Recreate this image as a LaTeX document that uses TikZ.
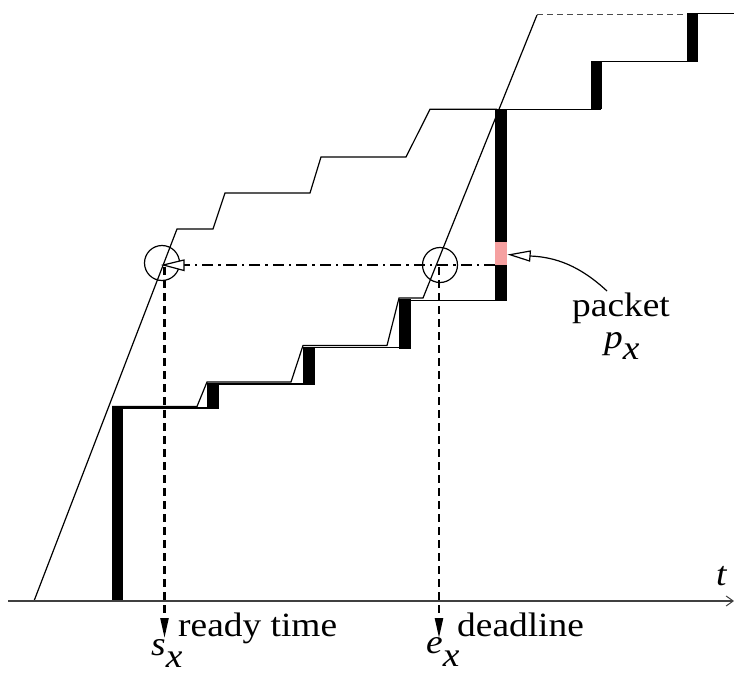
\documentclass[tikz,border=0pt]{standalone}
\usepackage{fontspec}
\setmainfont{Liberation Serif}
\usetikzlibrary{arrows.meta}
\definecolor{pinkbar}{RGB}{245,160,160}
\tikzset{
  thinline/.style={line width=1.2pt, line join=miter},
  barfill/.style={fill=black, draw=none},
  dropline/.style={line width=2.3pt, dash pattern=on 8pt off 5pt,
    -{Triangle[length=20pt,width=8pt]}},
  ddline/.style={line width=2.3pt, dash pattern=on 11pt off 5pt on 2.5pt off 5pt},
  openhead/.style={line width=1.2pt, fill=white, line join=miter},
  ringnode/.style={circle, draw, line width=1.2pt, minimum size=35pt, inner sep=0pt},
  lbl/.style={font=\fontsize{34}{38}\selectfont, inner sep=0pt, anchor=base west},
}
\newcommand{\wide}[1]{\scalebox{1.1}[1]{#1}}
\begin{document}
\begin{tikzpicture}[x=1pt,y=-1pt]
\useasboundingbox (0,0) rectangle (734,674);

% upper curve
\draw[thinline] (34,601) -- (177,229) -- (213,229) -- (225,193) -- (310,193)
  -- (321,157) -- (406,157) -- (430,109.3) -- (497,109.3);

% lower thin curve
\draw[thinline] (112,406.5) -- (197,406.5) -- (207,382) -- (291,382)
  -- (303,345.5) -- (387,345.5) -- (399,298) -- (423,298) -- (537,15);
\draw[line width=1pt, black!70, dash pattern=on 6pt off 4pt] (537,15) -- (688,15);

% staircase horizontals
\draw[thinline] (112,408) -- (218,408);
\draw[thinline] (207,384) -- (315,384);
\draw[thinline] (303,347.5) -- (411,347.5);
\draw[thinline] (399,300.5) -- (507,300.5);
\draw[thinline] (495,109.3) -- (601,109.3);
\draw[thinline] (591,61.5) -- (698,61.5);
\draw[thinline] (687,13.7) -- (734,13.7);

% bars
\fill[barfill] (112,408) rectangle (122.5,601);
\fill[barfill] (207,383) rectangle (218.5,409);
\fill[barfill] (303,346.7) rectangle (315,385);
\fill[barfill] (399,299) rectangle (411,349.3);
\fill[barfill] (495,109.3) rectangle (507,301);
\fill[pinkbar] (495,241.5) rectangle (507,265);
\fill[barfill] (591,61) rectangle (602,109.3);
\fill[barfill] (687,13.3) rectangle (698.3,61.5);

% axis
\coordinate (ax0) at (8,601);
\coordinate (ax1) at (734,601);
\draw[line width=1.3pt, black!75, -{Straight Barb[length=7pt,width=10pt,line width=1pt]}] (ax0) -- (ax1);
\node[lbl] (t) at (716,585) {\wide{\textit{t}}};

% circles
\node[ringnode] (c1) at (162,263) {};
\node[ringnode] (c2) at (440,265) {};

% dash-dot arrow
\coordinate (ddstart) at (495,265);
\coordinate (ddbase) at (184,265);
\coordinate (ddtip) at (163.3,265);
\draw[ddline] (ddstart) -- (ddbase);
\draw[openhead] (184,260) -- (ddtip) -- (184,270.5) -- cycle;

% drop lines
\coordinate (d1a) at (164.5,267);
\coordinate (d1b) at (164.5,638);
\coordinate (d2a) at (439,267);
\coordinate (d2b) at (439,638);
\draw[dropline] (d1a) -- (d1b);
\draw[dropline] (d2a) -- (d2b);

% labels
\node[lbl] (rt) at (178,636) {\wide{ready time}};
\node[lbl] (dl) at (457,636) {\wide{deadline}};
\node[lbl] (sx) at (151,655) {\wide{\textit{s}\raisebox{-12pt}{\textit{x}}}};
\node[lbl] (ex) at (426,653) {\wide{\textit{e}\raisebox{-13pt}{\textit{x}}}};
\node[lbl] (pk) at (572,316) {\wide{packet}};
\node[lbl] (px) at (604,348) {\wide{\textit{p}\raisebox{-11pt}{\textit{x}}}};

% packet arrow
\coordinate (pkstart) at (607,291);
\coordinate (pkbase) at (530,256);
\coordinate (pktip) at (510,254.7);
\draw[thinline] (pkstart) .. controls (580,266) and (556,257) .. (pkbase);
\draw[openhead] (530.4,251) -- (pktip) -- (529.6,261) -- cycle;
\end{tikzpicture}
\end{document}
